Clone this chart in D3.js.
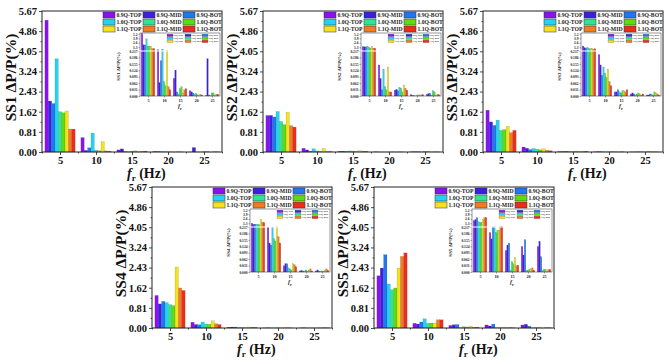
<!DOCTYPE html>
<html>
<head>
<meta charset="utf-8">
<script src="https://cdn.jsdelivr.net/npm/d3@7"></script>
<style>
  body { margin: 0; background: #fff; }
  svg { display: block; font-family: "Liberation Serif", "Times New Roman", serif; font-weight: bold; }
</style>
</head>
<body>
<svg id="fig" width="669" height="364"></svg>
<script>
const freqs = [5, 10, 15, 20, 25];
const series = ["0.9Q-TOP", "0.9Q-MID", "0.9Q-BOT",
                "1.0Q-TOP", "1.0Q-MID", "1.0Q-BOT",
                "1.1Q-TOP", "1.1Q-MID", "1.1Q-BOT"];
const colors = ["#8a12f2", "#3a20e4", "#1e78f2",
                "#24d2f2", "#2ee68c", "#5edc12",
                "#f4e21c", "#f27a20", "#ee2c1e"];
const yTicks = [0, 0.81, 1.62, 2.43, 3.24, 4.05, 4.86, 5.67];
const insetLowTicks = [0, 0.031, 0.062, 0.093, 0.124, 0.155, 0.186, 0.217];
const insetHighTicks = [1.3, 2.6, 3.9, 5.2];

// one row per frequency (5,10,15,20,25 Hz), one value per series, in %
const ss1 = [
  [5.30, 2.05, 1.95, 3.75, 1.62, 1.58, 1.65, 0.92, 0.92],
  [0.58, 0.065, 0.17, 0.76, 0.07, 0.05, 0.42, 0.045, 0.03],
  [0.085, 0.125, 0.02, 0.01, 0.035, 0.045, 0.015, 0.03, 0.035],
  [0.025, 0.02, 0.015, 0.01, 0.012, 0.006, 0.003, 0.008, 0.005],
  [0.003, 0.18, 0.005, 0.002, 0.015, 0.015, 0.002, 0.008, 0.008]
];
const ss2 = [
  [1.47, 1.47, 1.41, 1.63, 1.23, 1.10, 1.60, 1.06, 1.00],
  [0.15, 0.085, 0.03, 0.13, 0.045, 0.03, 0.14, 0.02, 0.02],
  [0.028, 0.032, 0.025, 0.042, 0.037, 0.02, 0.053, 0.037, 0.028],
  [0.007, 0.003, 0.002, 0.001, 0.003, 0.006, 0.003, 0.006, 0.006],
  [0.008, 0.012, 0.012, 0.005, 0.025, 0.02, 0.003, 0.008, 0.006]
];
const ss3 = [
  [1.68, 1.21, 1.07, 1.28, 0.87, 0.90, 1.03, 0.78, 0.87],
  [0.20, 0.15, 0.10, 0.14, 0.11, 0.09, 0.13, 0.07, 0.05],
  [0.02, 0.02, 0.03, 0.02, 0.015, 0.025, 0.025, 0.02, 0.03],
  [0.01, 0.015, 0.01, 0.005, 0.01, 0.015, 0.01, 0.005, 0.01],
  [0.005, 0.005, 0.01, 0.01, 0.005, 0.02, 0.015, 0.01, 0.005]
];
const ss4 = [
  [1.31, 0.97, 1.07, 1.02, 0.94, 0.90, 2.45, 1.61, 1.51],
  [0.23, 0.14, 0.13, 0.24, 0.16, 0.15, 0.29, 0.17, 0.14],
  [0.03, 0.04, 0.04, 0.02, 0.015, 0.01, 0.04, 0.035, 0.025],
  [0.005, 0.008, 0.005, 0.005, 0.01, 0.005, 0.01, 0.015, 0.005],
  [0.005, 0.01, 0.005, 0.005, 0.005, 0.005, 0.01, 0.015, 0.008]
];
const ss5 = [
  [2.10, 2.41, 2.95, 1.77, 1.54, 1.61, 2.41, 2.88, 3.02],
  [0.19, 0.16, 0.24, 0.37, 0.19, 0.20, 0.20, 0.33, 0.33],
  [0.104, 0.13, 0.14, 0.01, 0.05, 0.04, 0.07, 0.03, 0.033],
  [0.123, 0.082, 0.156, 0.008, 0.008, 0.013, 0.016, 0.02, 0.008],
  [0.123, 0.148, 0.074, 0.008, 0.012, 0.013, 0.005, 0.012, 0.012]
];

const svg = d3.select("#fig");
const W = 180, H = 141;

function bars(g, data, x, yf, base) {
  const inner = d3.scaleBand().domain(d3.range(series.length)).range([-2.1, 2.1]);
  const bw = x(inner.bandwidth()) - x(0);
  const cells = [];
  data.forEach((row, fi) => row.forEach((v, si) => cells.push({f: freqs[fi], s: si, v: v})));
  g.selectAll("rect.bar").data(cells).join("rect")
    .attr("class", "bar")
    .attr("x", d => x(d.f + inner(d.s)))
    .attr("width", bw)
    .attr("y", d => yf(d.v))
    .attr("height", d => Math.max(0, base - yf(d.v)))
    .attr("fill", d => colors[d.s])
    .attr("stroke", "#222").attr("stroke-opacity", 0.35).attr("stroke-width", 0.3);
}

function legend(g, x0, y0, colX, pitch, sw, sh, fs) {
  series.forEach((s, i) => {
    const c = i % 3, r = Math.floor(i / 3);
    const lg = g.append("g").attr("transform", `translate(${x0 + colX[c]},${y0 + r * pitch})`);
    lg.append("rect").attr("width", sw).attr("height", sh)
      .attr("fill", colors[i]).attr("stroke", "#333").attr("stroke-width", sh > 4 ? 0.5 : 0.2);
    lg.append("text").attr("x", sw + fs * 0.25).attr("y", sh * 0.5).attr("dy", "0.35em")
      .attr("font-size", fs).attr("fill", "#222").text(s);
  });
}

function drawPanel(name, data, left, top) {
  const g = svg.append("g").attr("transform", `translate(${left},${top})`);
  const x = d3.scaleLinear().domain([2.5, 27.5]).range([0, W]);
  const y = d3.scaleLinear().domain([0, 5.67]).range([H, 0]);

  bars(g.append("g"), data, x, y, H);

  // axes
  const ya = g.append("g").call(d3.axisLeft(y).tickValues(yTicks)
    .tickFormat(d3.format(".2f")).tickSize(3).tickSizeOuter(0));
  g.append("g").call(d3.axisLeft(y).tickValues(d3.range(7).map(i => yTicks[i] + 0.405))
    .tickFormat("").tickSize(1.5).tickSizeOuter(0));
  const xa = g.append("g").attr("transform", `translate(0,${H})`)
    .call(d3.axisBottom(x).tickValues(freqs).tickSize(3).tickSizeOuter(0));
  g.append("g").attr("transform", `translate(0,${H})`)
    .call(d3.axisBottom(x).tickValues([2.5, 7.5, 12.5, 17.5, 22.5, 27.5])
      .tickFormat("").tickSize(1.5).tickSizeOuter(0));
  g.selectAll(".domain").remove();
  g.selectAll(".tick line").attr("stroke", "#222").attr("stroke-width", 0.8);
  ya.selectAll("text").attr("font-size", 10.5).attr("x", -5);
  xa.selectAll("text").attr("font-size", 10.5).attr("y", 4).attr("dy", "0.8em");
  g.selectAll(".tick text").attr("font-family", "Liberation Serif").attr("font-weight", "bold").attr("fill", "#111");
  g.append("rect").attr("width", W).attr("height", H)
    .attr("fill", "none").attr("stroke", "#222").attr("stroke-width", 1);

  // titles
  g.append("text").attr("transform", `translate(-26,${H / 2 - 4}) rotate(-90)`)
    .attr("text-anchor", "middle").attr("font-size", 15.5).attr("fill", "#111")
    .text(name + " \u0394P/P(%)");
  const xt = g.append("text").attr("x", 85).attr("y", H + 25.5).attr("font-size", 14).attr("fill", "#111");
  xt.append("tspan").attr("font-style", "italic").text("f");
  xt.append("tspan").attr("font-size", 9).attr("dy", 3).text("r");
  xt.append("tspan").attr("dy", -3).text(" (Hz)");

  legend(g, 61, 1, [0, 40, 80], 7, 12, 6, 5.7);

  drawInset(g, name, data, 98, 22);
}

function drawInset(parent, name, data, ix, iy) {
  const w = 80, h = 63, hb = 18;
  const g = parent.append("g").attr("transform", `translate(${ix},${iy})`);
  const x = d3.scaleLinear().domain([2.5, 27.5]).range([0, w]);
  const yLow = d3.scaleLinear().domain([0, 0.217]).range([h, hb]);
  const yHigh = d3.scaleLinear().domain([0.217, 5.45]).range([hb, 0]);
  const yf = v => v <= 0.217 ? yLow(v) : yHigh(v);

  g.append("rect").attr("width", w).attr("height", h).attr("fill", "#fff");
  bars(g.append("g"), data, x, yf, h);

  const a1 = g.append("g").call(d3.axisLeft(yLow).tickValues(insetLowTicks)
    .tickFormat(d3.format(".3f")).tickSize(1.5).tickSizeOuter(0));
  const a2 = g.append("g").call(d3.axisLeft(yHigh).tickValues(insetHighTicks)
    .tickFormat(d3.format(".1f")).tickSize(1.5).tickSizeOuter(0));
  const a3 = g.append("g").attr("transform", `translate(0,${h})`)
    .call(d3.axisBottom(x).tickValues(freqs).tickSize(1.5).tickSizeOuter(0));
  g.selectAll(".domain").remove();
  g.selectAll(".tick line").attr("stroke", "#222").attr("stroke-width", 0.4);
  g.selectAll(".tick text").attr("font-size", 3.6).attr("font-family", "Liberation Serif")
    .attr("font-weight", "bold").attr("fill", "#222");
  a1.selectAll("text").attr("x", -2.5);
  a2.selectAll("text").attr("x", -2.5);
  a3.selectAll("text").attr("y", 3).attr("font-size", 4.2);
  g.append("rect").attr("width", w).attr("height", h)
    .attr("fill", "none").attr("stroke", "#333").attr("stroke-width", 0.5);
  // axis break mark
  g.append("line").attr("x1", -1).attr("x2", w * 0.55).attr("y1", hb).attr("y2", hb)
    .attr("stroke", "#fff").attr("stroke-width", 1.2);

  g.append("text").attr("transform", `translate(-20,${h / 2 + 2}) rotate(-90)`)
    .attr("text-anchor", "middle").attr("font-size", 5).attr("fill", "#222")
    .text(name + " \u0394P/P(%)");
  const xt = g.append("text").attr("x", w / 2).attr("y", h + 12).attr("text-anchor", "middle")
    .attr("font-size", 6).attr("fill", "#222");
  xt.append("tspan").attr("font-style", "italic").text("f");
  xt.append("tspan").attr("font-size", 4).attr("dy", 1.5).text("r");

  legend(g, 27, 1.2, [0, 18, 35], 3, 6, 2.4, 2.2);
}

drawPanel("SS1", ss1, 42, 11);
drawPanel("SS2", ss2, 263, 11);
drawPanel("SS3", ss3, 483, 11);
drawPanel("SS4", ss4, 152, 187);
drawPanel("SS5", ss5, 374, 187);
</script>
</body>
</html>
